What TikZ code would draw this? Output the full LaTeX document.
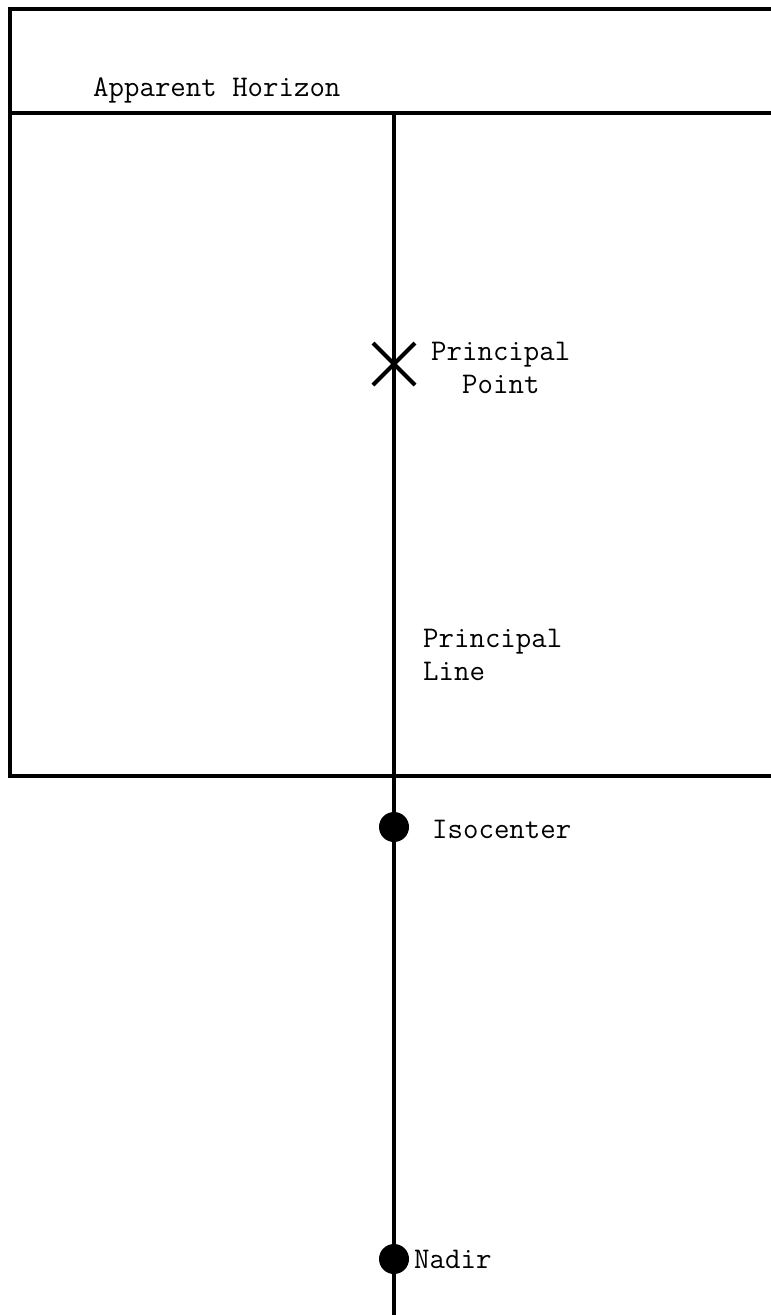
\documentclass[tikz,border=0pt]{standalone}
\usetikzlibrary{shapes.misc}
\begin{document}
\begin{tikzpicture}[x=1pt,y=-1pt,
  rule/.style={line width=4pt},
  lbl/.style={font=\fontsize{30}{33}\selectfont\ttfamily, inner sep=0pt, anchor=base west},
  dot/.style={circle, fill=black, inner sep=0pt, minimum size=30pt},
  xmark/.style={cross out, draw=black, line width=4pt, inner sep=0pt, minimum size=38pt}]
\useasboundingbox (0,0) rectangle (771,1315);
% frame
\coordinate (tr) at (771,9);
\coordinate (tl) at (10,9);
\coordinate (bl) at (10,776);
\coordinate (br) at (771,776);
\coordinate (hl) at (10,113);
\coordinate (hr) at (771,113);
\coordinate (top) at (394,113);
\coordinate (bot) at (394,1315);
\draw[rule, line join=miter] (tr) -- (tl) -- (bl) -- (br);
\draw[rule] (hl) -- (hr);
\draw[rule] (top) -- (bot);
% markers
\node[xmark] (pp) at (394,364) {};
\node[dot] (iso) at (394,827) {};
\node[dot] (nadir) at (394,1259) {};
% labels
\node[lbl] (ah) at (93,96) {Apparent Horizon};
\node[lbl] (ppa) at (431,360) {Principal};
\node[lbl] (ppb) at (462,393) {Point};
\node[lbl] (pla) at (423,647) {Principal};
\node[lbl] (plb) at (423,680) {Line};
\node[lbl] (isol) at (432,838) {Isocenter};
\node[lbl] (nadl) at (414,1268) {Nadir};
\end{tikzpicture}
\end{document}
